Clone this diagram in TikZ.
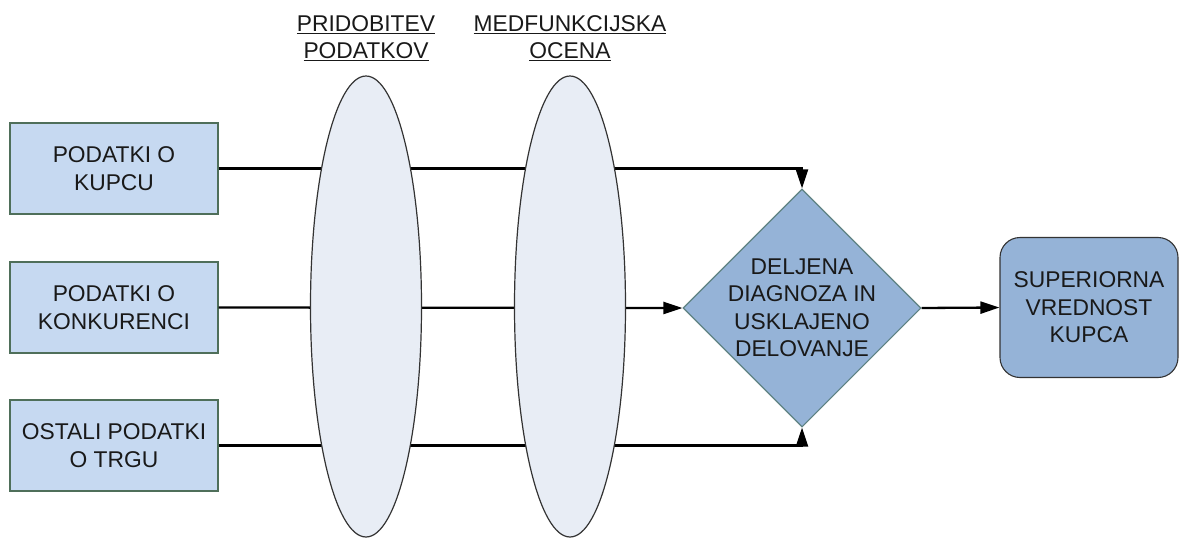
\documentclass[tikz,border=0pt]{standalone}
\usepackage{fontspec}
\setmainfont{Liberation Sans}
\usetikzlibrary{shapes.geometric,arrows.meta}
\definecolor{boxfill}{HTML}{C6D9F1}
\definecolor{boxline}{HTML}{4F6F5A}
\definecolor{dfill}{HTML}{95B3D7}
\definecolor{dline}{HTML}{5E8282}
\definecolor{efill}{HTML}{E8EDF5}
\definecolor{eline}{HTML}{333333}
\tikzset{
  txt/.style={font=\fontsize{22.8}{27.5}\selectfont, align=center, text=black!90},
  srcbox/.style={txt, draw=boxline, fill=boxfill, line width=1.1pt, minimum width=208pt, minimum height=91pt, inner sep=0pt},
  lens/.style={ellipse, draw=eline, fill=efill, line width=1.2pt, minimum width=111pt, minimum height=461pt, inner sep=0pt},
  decbox/.style={diamond, draw=dline, fill=dfill, line width=1.1pt, minimum width=238pt, minimum height=238pt, inner sep=0pt},
  resbox/.style={txt, draw=eline, fill=dfill, line width=1.1pt, rounded corners=20pt, minimum width=178pt, minimum height=140pt, inner sep=0pt},
  conn/.style={line width=2.3pt, -{Triangle[length=19pt,width=12pt]}},
  head/.style={txt}
}
\begin{document}
\begin{tikzpicture}[x=1pt,y=-1pt]
\useasboundingbox (0,0) rectangle (1179,538);
\node[srcbox] (b1) at (114,168.5) {PODATKI O\\KUPCU};
\node[srcbox] (b2) at (114,307.5) {PODATKI O\\KONKURENCI};
\node[srcbox] (b3) at (114,445.5) {OSTALI PODATKI\\O TRGU};
\node[decbox] (d) at (802,308) {};
\node[txt] (dt) at (d.center) {DELJENA\\DIAGNOZA IN\\USKLAJENO\\DELOVANJE};
\node[resbox] (r) at (1089,307.5) {SUPERIORNA\\VREDNOST\\KUPCA};
\draw[conn] (b1.east) -| (d.north);
\draw[conn] (b2.east) -- (d.west);
\draw[conn] (b3.east) -| (d.south);
\draw[conn] (d.east) -- (r.west);
\node[lens] (e1) at (366,306.5) {};
\node[lens] (e2) at (570,306.5) {};
\node[head] (h1) at (366,38) {\underline{PRIDOBITEV}\\\underline{PODATKOV}};
\node[head] (h2) at (570,38) {\underline{MEDFUNKCIJSKA}\\\underline{OCENA}};
\end{tikzpicture}
\end{document}
